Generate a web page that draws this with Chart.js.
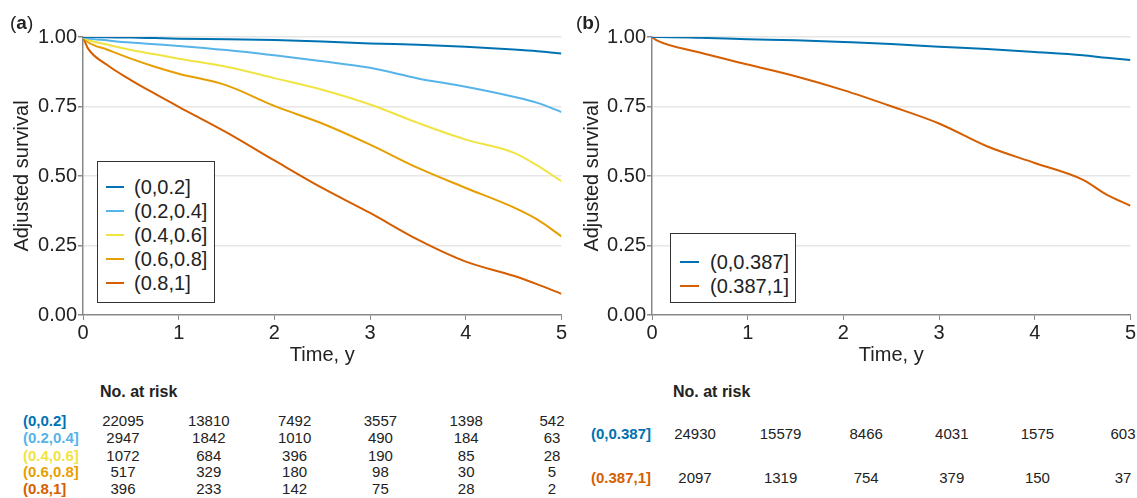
<!DOCTYPE html>
<html>
<head>
<meta charset="utf-8">
<script src="https://cdn.jsdelivr.net/npm/chart.js@4.4.1/dist/chart.umd.min.js"></script>
<style>
  body { margin: 0; background: #fff; font-family: 'Liberation Sans', Arial, sans-serif; color: #222; }
  #wrap { position: relative; width: 1137px; height: 498px; overflow: hidden; }
  .cv { position: absolute; top: 0; }
  .panel-tag { position: absolute; font-size: 19px; line-height: 20px; }
  .legend { position: absolute; box-sizing: border-box; border: 1px solid #333; background: #fff; }
  .legend .row { position: relative; height: 24px; line-height: 24px; font-size: 20px; white-space: nowrap; }
  .legend .swatch { position: absolute; top: 11px; height: 2px; }
  .t { position: absolute; white-space: nowrap; transform: translate(-50%, -50%); font-size: 15px; }
  .lab { position: absolute; white-space: nowrap; transform: translateY(-50%); font-size: 15px; font-weight: bold; }
  .head { position: absolute; white-space: nowrap; transform: translateY(-50%); font-size: 16px; font-weight: bold; }
</style>
</head>
<body>
<div id="wrap">
  <canvas id="chartA" class="cv" style="left:0px"></canvas>
  <canvas id="chartB" class="cv" style="left:570px"></canvas>
  <div class="panel-tag" style="left:10px; top:13px">(<b>a</b>)</div>
  <div class="panel-tag" style="left:576px; top:13px">(<b>b</b>)</div>
  <div id="legendA" class="legend" style="left:97px; top:161px; width:118px; height:142px; padding-top:13px"></div>
  <div id="legendB" class="legend" style="left:670px; top:233px; width:126px; height:70px; padding-top:16px"></div>
  <div id="tableA"></div>
  <div id="tableB"></div>
</div>

<script>
// panel (a): survival by quintile group
const groupsA = ['(0,0.2]', '(0.2,0.4]', '(0.4,0.6]', '(0.6,0.8]', '(0.8,1]'];
const colorsA = ['#0072B2', '#56B4E9', '#F0E442', '#E69F00', '#D55E00'];
const timesA = [0, 0.05, 0.25, 0.5, 0.75, 1, 1.5, 2, 2.5, 3, 3.5, 4, 4.5, 4.75, 5];
const survA1 = [1, 1, 0.999, 0.998, 0.996, 0.994, 0.992, 0.989, 0.984, 0.977, 0.972, 0.965, 0.955, 0.949, 0.941];
const survA2 = [1, 0.995, 0.988, 0.980, 0.974, 0.968, 0.953, 0.934, 0.913, 0.889, 0.851, 0.821, 0.785, 0.763, 0.730];
const survA3 = [1, 0.990, 0.973, 0.953, 0.938, 0.922, 0.893, 0.852, 0.810, 0.757, 0.691, 0.631, 0.584, 0.537, 0.481];
const survA4 = [1, 0.982, 0.955, 0.922, 0.893, 0.868, 0.826, 0.752, 0.689, 0.613, 0.529, 0.457, 0.387, 0.343, 0.283];
const survA5 = [1, 0.960, 0.900, 0.845, 0.796, 0.749, 0.657, 0.556, 0.457, 0.367, 0.271, 0.192, 0.141, 0.110, 0.076];

// panel (b): two groups split at 0.387
const groupsB = ['(0,0.387]', '(0.387,1]'];
const colorsB = ['#0072B2', '#D55E00'];
const timesB = [0, 0.05, 0.5, 1, 1.5, 2, 2.5, 3, 3.5, 4, 4.5, 4.75, 5];
const survB1 = [1, 1, 0.997, 0.992, 0.988, 0.982, 0.975, 0.965, 0.957, 0.946, 0.934, 0.925, 0.917];
const survB2 = [1, 0.988, 0.944, 0.901, 0.859, 0.809, 0.751, 0.689, 0.607, 0.547, 0.487, 0.433, 0.393];

// number at risk at years 0..5
const riskYears = [0, 1, 2, 3, 4, 5];
const riskA = [
    [22095, 13810, 7492, 3557, 1398, 542],
    [2947, 1842, 1010, 490, 184, 63],
    [1072, 684, 396, 190, 85, 28],
    [517, 329, 180, 98, 30, 5],
    [396, 233, 142, 75, 28, 2]
];
const riskB = [
    [24930, 15579, 8466, 4031, 1575, 603],
    [2097, 1319, 754, 379, 150, 37]
];

const yTicks = [0, 0.25, 0.5, 0.75, 1];
const FONT = "'Liberation Sans', Arial, sans-serif";

function toPoints(times, values) {
    return times.map((t, i) => ({ x: t, y: values[i] }));
}

function buildChart(id, width, yAxisWidth, rightPad, groups, colors, times, series) {
    const canvas = document.getElementById(id);
    canvas.width = width;
    canvas.height = 370;
    canvas.style.width = width + 'px';
    canvas.style.height = '370px';

    return new Chart(canvas, {
        type: 'line',
        data: {
            datasets: series.map((s, i) => ({
                label: groups[i],
                data: toPoints(times, s),
                borderColor: colors[i],
                borderWidth: 2,
                pointRadius: 0,
                cubicInterpolationMode: 'monotone',
                fill: false
            }))
        },
        options: {
            responsive: false,
            animation: false,
            layout: { padding: { top: 37, right: rightPad, left: 0, bottom: 0 } },
            plugins: { legend: { display: false }, tooltip: { enabled: false } },
            scales: {
                x: {
                    type: 'linear',
                    min: 0,
                    max: 5,
                    afterFit: (s) => { s.height = 55; },
                    ticks: { stepSize: 1, color: '#222', padding: 1, font: { family: FONT, size: 20 } },
                    grid: { drawOnChartArea: false, drawTicks: true, tickLength: 5, tickColor: '#888' },
                    border: { color: '#888', width: 1.5 },
                    title: { display: true, text: 'Time, y', color: '#222', font: { family: FONT, size: 20 }, padding: { top: 0, bottom: 3 } }
                },
                y: {
                    min: 0,
                    max: 1,
                    afterFit: (s) => { s.width = yAxisWidth; },
                    afterBuildTicks: (s) => { s.ticks = yTicks.map(v => ({ value: v })); },
                    ticks: { color: '#222', padding: 1, font: { family: FONT, size: 20 }, callback: (v) => v.toFixed(2) },
                    grid: { color: (c) => c.tick && c.tick.value === 0 ? 'rgba(0,0,0,0)' : '#e6e6e6', lineWidth: 1.5, tickLength: 5, tickColor: '#888' },
                    border: { color: '#888', width: 1.5 },
                    title: { display: true, text: 'Adjusted survival', color: '#222', font: { family: FONT, size: 20 }, padding: { top: 10, bottom: 0 } }
                }
            }
        }
    });
}

buildChart('chartA', 568, 83, 5, groupsA, colorsA, timesA, [survA1, survA2, survA3, survA4, survA5]);
buildChart('chartB', 567, 82, 6, groupsB, colorsB, timesB, [survB1, survB2]);

function buildLegend(id, groups, colors, lineLeft, lineWidth, textLeft) {
    const box = document.getElementById(id);
    box.innerHTML = groups.map((g, i) => `
        <div class="row">
            <span class="swatch" style="left:${lineLeft}px; width:${lineWidth}px; background:${colors[i]}"></span>
            <span style="position:absolute; left:${textLeft}px">${g}</span>
        </div>`).join('');
}

buildLegend('legendA', groupsA, colorsA, 8, 18, 36);
buildLegend('legendB', groupsB, colorsB, 9, 19, 39);

function buildTable(id, groups, colors, rows, labelLeft, headLeft, firstCol, colStep, rowTops) {
    const el = document.getElementById(id);
    let html = `<div class="head" style="left:${headLeft}px; top:392px">No. at risk</div>`;
    rows.forEach((vals, r) => {
        html += `<div class="lab" style="left:${labelLeft}px; top:${rowTops[r]}px; color:${colors[r]}">${groups[r]}</div>`;
        vals.forEach((v, c) => {
            html += `<div class="t" style="left:${firstCol + c * colStep}px; top:${rowTops[r]}px">${v}</div>`;
        });
    });
    el.innerHTML = html;
}

buildTable('tableA', groupsA, colorsA, riskA, 23, 100, 123, 85.8, [420, 437, 455, 471, 488]);
buildTable('tableB', groupsB, colorsB, riskB, 591, 673, 695, 85.6, [433, 477]);
</script>
</body>
</html>
